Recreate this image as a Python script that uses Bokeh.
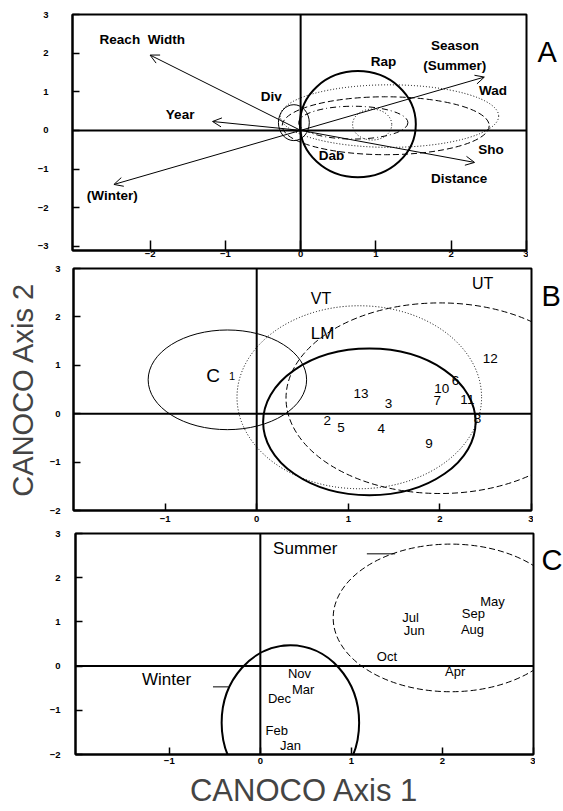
from bokeh.plotting import figure
from bokeh.layouts import column, row
from bokeh.models import Span, Arrow, OpenHead, FixedTicker, Range1d
from bokeh.core.properties import value
from bokeh.embed import file_html
from bokeh.resources import INLINE

FONT = "Liberation Sans"

# ---------------- Panel A data ----------------
a_arrow_names = ["Reach Width", "Year", "(Winter)", "Season (Summer)", "Distance"]
a_arrow_x = [-2.0, -1.17, -2.48, 2.44, 2.31]
a_arrow_y = [1.95, 0.23, -1.40, 1.38, -0.83]

a_text = ["Reach\u00a0 Width", "Year", "(Winter)", "Div", "Rap", "Season", "(Summer)",
          "Wad", "Sho", "Distance", "Dab"]
a_text_x = [-2.67, -1.79, -2.84, -0.53, 0.93, 1.73, 1.63, 2.37, 2.36, 1.73, 0.24]
a_text_y = [2.34, 0.42, -1.69, 0.88, 1.79, 2.20, 1.69, 1.03, -0.49, -1.24, -0.65]

a_ell_names = ["Rap", "Div", "Wad", "Sho", "Dab", "inner"]
a_ell_x = [0.76, -0.09, 1.18, 1.13, 0.70, 0.95]
a_ell_y = [0.16, 0.20, 0.37, 0.12, 0.20, 0.15]
a_ell_w = [1.54, 0.41, 2.90, 2.75, 1.45, 0.52]
a_ell_h = [2.75, 0.93, 1.62, 1.50, 0.85, 0.80]
a_ell_style = ["solid", "thin", "dotted", "dashed", "dashdot", "dotted"]

# ---------------- Panel B data ----------------
b_ell_names = ["C", "LM", "VT", "UT"]
b_ell_x = [-0.32, 1.23, 1.12, 2.00]
b_ell_y = [0.70, -0.17, 0.34, 0.32]
b_ell_w = [1.73, 2.32, 2.67, 3.36]
b_ell_h = [2.06, 3.03, 3.78, 3.94]
b_ell_style = ["thin", "solid", "dotted", "dashed"]

b_group_text = ["VT", "UT", "LM", "C"]
b_group_x = [0.59, 2.35, 0.59, -0.55]
b_group_y = [2.37, 2.70, 1.65, 0.78]
b_group_size = ["16px", "16px", "17px", "19px"]

b_site_text = ["1", "12", "6", "10", "7", "11", "8", "13", "3", "2", "5", "4", "9"]
b_site_x = [-0.27, 2.55, 2.17, 2.02, 1.97, 2.30, 2.41, 1.14, 1.44, 0.77, 0.92, 1.36, 1.88]
b_site_y = [0.77, 1.15, 0.68, 0.52, 0.27, 0.30, -0.10, 0.41, 0.22, -0.14, -0.28, -0.31, -0.62]

# ---------------- Panel C data ----------------
c_ell_names = ["Summer", "Winter"]
c_ell_x = [2.09, 0.33]
c_ell_y = [1.09, -1.28]
c_ell_w = [2.58, 1.51]
c_ell_h = [3.34, 3.50]
c_ell_style = ["dashed", "solid"]

c_season_text = ["Summer", "Winter"]
c_season_x = [0.14, -1.30]
c_season_y = [2.67, -0.31]
c_leader_x0 = [1.17, -0.52]
c_leader_x1 = [1.48, -0.35]
c_leader_y = [2.54, -0.47]

c_month_text = ["May", "Sep", "Aug", "Jul", "Jun", "Oct", "Apr", "Nov", "Mar", "Dec", "Feb", "Jan"]
c_month_x = [2.55, 2.34, 2.33, 1.65, 1.69, 1.39, 2.14, 0.43, 0.47, 0.21, 0.18, 0.33]
c_month_y = [1.46, 1.19, 0.83, 1.10, 0.81, 0.22, -0.13, -0.16, -0.54, -0.74, -1.46, -1.80]

panel_letters = ["A", "B", "C"]

DASH = {"solid": "solid", "thin": "solid", "dotted": "1 2", "dashed": "6 3", "dashdot": "6 3 1 3"}
WIDTH = {"solid": 2, "thin": 1, "dotted": 1, "dashed": 1, "dashdot": 1}
TOTAL_W = 563


def make_panel(width, height, left, right, top, bottom, xr, yr, xticks, yticks,
               ystandoff, xstandoff, xtick_in):
    p = figure(width=width, height=height, x_range=Range1d(*xr), y_range=Range1d(*yr),
               output_backend="svg", toolbar_location=None, title=None,
               min_border_left=left, min_border_right=right,
               min_border_top=top, min_border_bottom=bottom)
    p.grid.visible = False
    p.outline_line_color = "black"
    p.outline_line_width = 2
    p.background_fill_color = "white"
    p.border_fill_color = "white"
    p.xaxis.ticker = FixedTicker(ticks=xticks)
    p.yaxis.ticker = FixedTicker(ticks=yticks)
    for ax in (p.xaxis, p.yaxis):
        ax.axis_line_width = 2
        ax.major_tick_out = 0
        ax.minor_tick_in = 0
        ax.minor_tick_out = 0
        ax.major_tick_line_width = 1.5
        ax.major_label_text_font = FONT
        ax.major_label_text_font_style = "bold"
        ax.major_label_text_font_size = "9.5px"
        ax.major_label_text_color = "black"
    p.xaxis.major_tick_in = xtick_in
    p.yaxis.major_tick_in = 7
    p.yaxis.major_label_standoff = ystandoff
    p.xaxis.major_label_standoff = xstandoff
    p.add_layout(Span(location=0, dimension="width", line_color="black", line_width=2))
    p.add_layout(Span(location=0, dimension="height", line_color="black", line_width=2))
    return p


def letter_panel(width, height, letter, lx, ly):
    f = figure(width=width, height=height, x_range=Range1d(0, width), y_range=Range1d(0, height),
               output_backend="svg", toolbar_location=None, title=None,
               x_axis_type=None, y_axis_type=None, min_border=0)
    f.grid.visible = False
    f.outline_line_color = None
    f.text(x=[lx], y=[ly], text=[letter], text_font=value(FONT), text_font_size="29px",
           text_baseline="alphabetic", text_align="left", text_color="black")
    return f


def draw_ellipses(p, xs, ys, ws, hs, styles):
    for x, y, w, h, s in zip(xs, ys, ws, hs, styles):
        p.ellipse(x=[x], y=[y], width=[w], height=[h], fill_color=None,
                  line_color="black", line_width=WIDTH[s], line_dash=DASH[s])


# Panel A
HA, WA = 262, 528
pa = make_panel(WA, HA, 72, 2, 14, 12, (-3.03, 3.0), (-3.11, 3.0),
                [-2, -1, 0, 1, 2, 3], [-3, -2, -1, 0, 1, 2, 3], 24, 0, 10)
draw_ellipses(pa, a_ell_x, a_ell_y, a_ell_w, a_ell_h, a_ell_style)
for ex, ey in zip(a_arrow_x, a_arrow_y):
    pa.add_layout(Arrow(end=OpenHead(size=9, line_width=1, line_color="black"),
                        x_start=0, y_start=0, x_end=ex, y_end=ey,
                        line_color="black", line_width=1))
pa.text(x=a_text_x, y=a_text_y, text=a_text, text_font=value(FONT),
        text_font_style="bold", text_font_size="13.5px", text_baseline="middle",
        text_align="left", text_color="black")
la = letter_panel(TOTAL_W - WA, HA, panel_letters[0], 9, HA - 42)

# Panel B
HB, WB = 262, 533
pb = make_panel(WB, HB, 73, 2, 6, 14, (-2.0, 3.0), (-2.0, 3.0),
                [-1, 0, 1, 2, 3], [-2, -1, 0, 1, 2, 3], 13, 5, 7)
draw_ellipses(pb, b_ell_x, b_ell_y, b_ell_w, b_ell_h, b_ell_style)
for t, x, y, s in zip(b_group_text, b_group_x, b_group_y, b_group_size):
    pb.text(x=[x], y=[y], text=[t], text_font=value(FONT), text_font_size=s,
            text_baseline="middle", text_align="left", text_color="black")
pb.text(x=b_site_x[:1], y=b_site_y[:1], text=b_site_text[:1], text_font=value(FONT),
        text_font_size="11px", text_baseline="middle", text_align="center", text_color="black")
pb.text(x=b_site_x[1:], y=b_site_y[1:], text=b_site_text[1:], text_font=value(FONT),
        text_font_size="13.5px", text_baseline="middle", text_align="center", text_color="black")
pb.yaxis.axis_label = "CANOCO Axis 2"
pb.yaxis.axis_label_text_font = FONT
pb.yaxis.axis_label_text_font_style = "normal"
pb.yaxis.axis_label_text_font_size = "29px"
pb.yaxis.axis_label_standoff = 8
lb = letter_panel(TOTAL_W - WB, HB, panel_letters[1], 8, HB - 30)

# Panel C
HC, WC = 286, 535
pc = make_panel(WC, HC, 75, 2, 9, 55, (-2.03, 3.0), (-2.0, 3.0),
                [-1, 0, 1, 2, 3], [-2, -1, 0, 1, 2, 3], 15, 3, 7)
draw_ellipses(pc, c_ell_x, c_ell_y, c_ell_w, c_ell_h, c_ell_style)
pc.text(x=c_season_x, y=c_season_y, text=c_season_text, text_font=value(FONT),
        text_font_size="17px", text_baseline="middle", text_align="left", text_color="black")
pc.segment(x0=c_leader_x0, y0=c_leader_y, x1=c_leader_x1, y1=c_leader_y,
           line_color="black", line_width=1)
pc.text(x=c_month_x, y=c_month_y, text=c_month_text, text_font=value(FONT),
        text_font_size="13px", text_baseline="middle", text_align="center", text_color="black")
pc.xaxis.axis_label = "CANOCO Axis 1"
pc.xaxis.axis_label_text_font = FONT
pc.xaxis.axis_label_text_font_style = "normal"
pc.xaxis.axis_label_text_font_size = "31px"
pc.xaxis.axis_label_standoff = 6
lc = letter_panel(TOTAL_W - WC, HC, panel_letters[2], 6, HC - 34)

layout = column(row(pa, la, spacing=0), row(pb, lb, spacing=0), row(pc, lc, spacing=0), spacing=0)
open("out.html", "w").write(file_html(layout, INLINE))
